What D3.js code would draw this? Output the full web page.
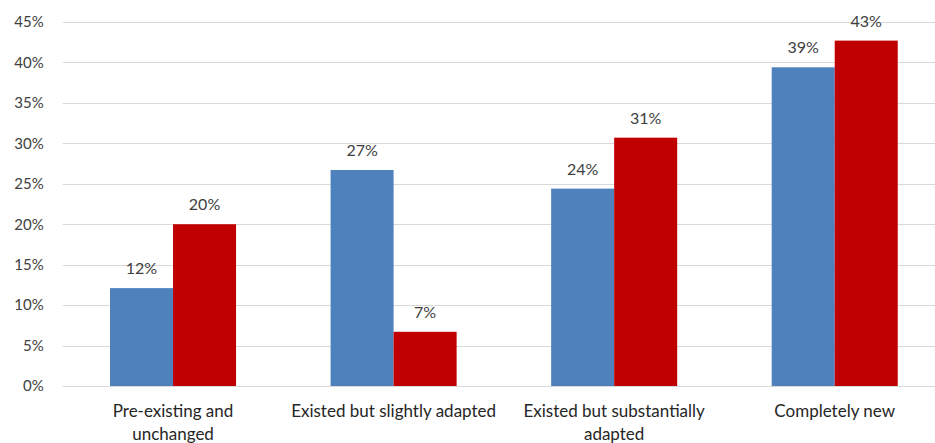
<!DOCTYPE html>
<html>
<head>
<meta charset="utf-8">
<script src="https://cdn.jsdelivr.net/npm/d3@7"></script>
<style>
  body { margin: 0; background: #fff; }
  text { font-family: Lato, "Open Sans", sans-serif; }
</style>
</head>
<body>
<div id="chart"></div>
<script>
// chart data
let categories = ['Pre-existing and\nunchanged', 'Existed but slightly adapted',
  'Existed but substantially\nadapted', 'Completely new'];
let blueValues = [12.1, 26.7, 24.4, 39.4];
let redValues = [20.0, 6.7, 30.7, 42.7];
let yTicks = [0, 5, 10, 15, 20, 25, 30, 35, 40, 45];

let width = 935, height = 443;
let margin = { top: 22, left: 62.75, right: -10, bottom: 57 };

let svg = d3.select('#chart')
  .append('svg')
  .attr('width', width)
  .attr('height', height);

// x scale for categories, inner scale for the two series
let xScale = d3.scaleBand()
  .domain(categories)
  .range([margin.left, width - margin.right])
  .paddingInner(0)
  .paddingOuter(0);

let inner = d3.scaleBand()
  .domain(['blue', 'red'])
  .range([0, xScale.bandwidth()])
  .paddingOuter(0.75)
  .paddingInner(0);

let yScale = d3.scaleLinear()
  .domain([0, 45])
  .range([height - margin.bottom, margin.top]);

// gridlines
svg.append('g')
  .selectAll('line')
  .data(yTicks)
  .join('line')
    .attr('x1', margin.left)
    .attr('x2', width)
    .attr('y1', d => Math.round(yScale(d)) + 0.5)
    .attr('y2', d => Math.round(yScale(d)) + 0.5)
    .style('stroke', '#d9d9d9')
    .style('stroke-width', 1);

// y axis labels
let yAxis = d3.axisLeft(yScale)
  .tickValues(yTicks)
  .tickFormat(d => d + '%')
  .tickSize(0)
  .tickPadding(19);

svg.append('g')
  .attr('transform', 'translate(' + margin.left + ',0)')
  .call(yAxis)
  .call(g => g.select('.domain').remove())
  .call(g => g.selectAll('text')
    .style('font-family', 'Lato, sans-serif')
    .style('font-size', '15px')
    .style('fill', '#404040'));

let series = [
  { key: 'blue', values: blueValues, color: '#4F81BD' },
  { key: 'red', values: redValues, color: '#C00000' }
];

let groups = svg.append('g')
  .selectAll('g')
  .data(series)
  .join('g');

groups.selectAll('rect')
  .data(s => s.values.map((v, i) => ({ key: s.key, color: s.color, v: v, c: categories[i] })))
  .join('rect')
    .attr('x', d => xScale(d.c) + inner(d.key))
    .attr('width', inner.bandwidth())
    .attr('y', d => yScale(d.v))
    .attr('height', d => yScale(0) - yScale(d.v))
    .style('fill', d => d.color);

groups.selectAll('text')
  .data(s => s.values.map((v, i) => ({ key: s.key, v: v, c: categories[i] })))
  .join('text')
    .attr('x', d => xScale(d.c) + inner(d.key) + inner.bandwidth() / 2)
    .attr('y', d => yScale(d.v) - 14)
    .attr('text-anchor', 'middle')
    .style('font-size', '16px')
    .style('fill', '#404040')
    .text(d => Math.round(d.v) + '%');

// category labels, split on line breaks
svg.append('g')
  .selectAll('text')
  .data(categories)
  .join('text')
    .attr('x', d => xScale(d) + xScale.bandwidth() / 2)
    .attr('y', 417)
    .attr('text-anchor', 'middle')
    .style('font-size', '17px')
    .style('fill', '#262626')
    .each(function(d) {
      let t = d3.select(this);
      d.split('\n').forEach((line, i) => {
        t.append('tspan')
          .attr('x', t.attr('x'))
          .attr('dy', i === 0 ? 0 : 23)
          .text(line);
      });
    });
</script>
</body>
</html>
